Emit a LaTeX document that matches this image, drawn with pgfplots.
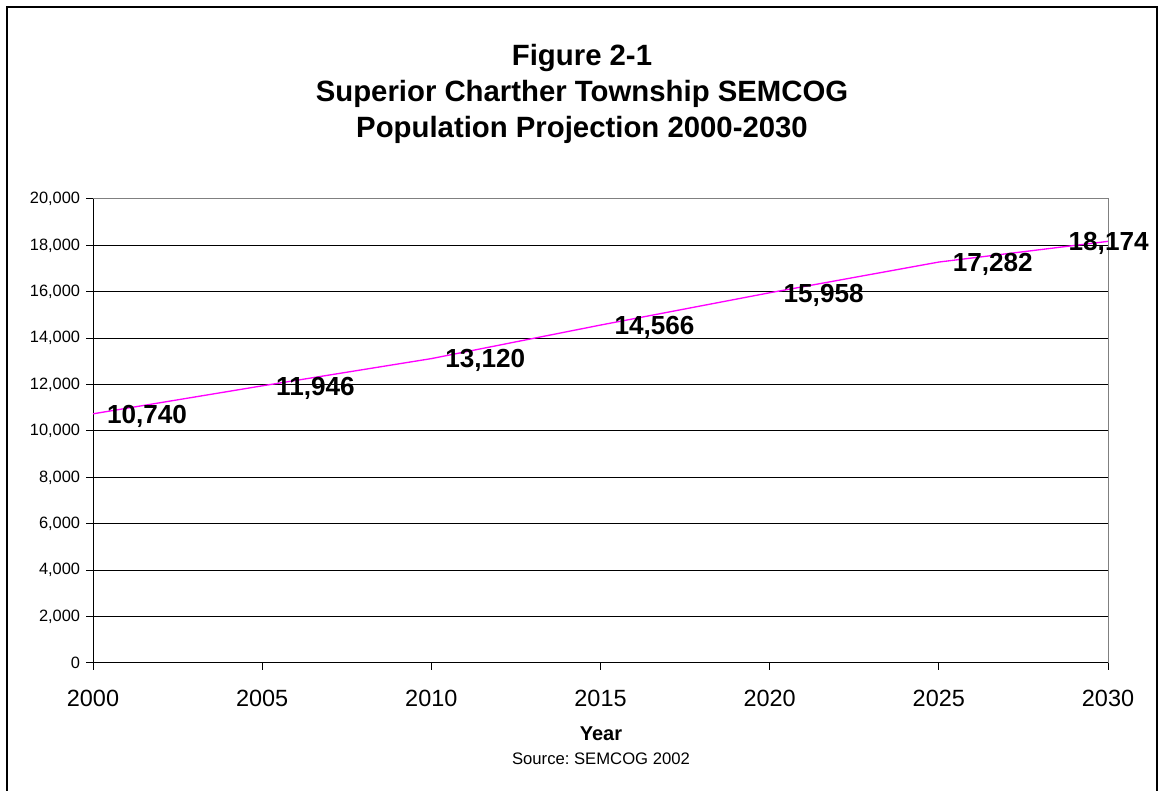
\documentclass[border=0pt]{standalone}
\usepackage{fontspec}
\setmainfont{Liberation Sans}
\usepackage{pgfplots}
\pgfplotsset{compat=1.18}
\definecolor{mag}{RGB}{255,0,255}
\definecolor{bordergray}{RGB}{128,128,128}
\frenchspacing
\begin{document}
\begin{tikzpicture}
\useasboundingbox (0,0) rectangle (869.25pt,593.25pt);
\draw[line width=1.5pt] (5.25pt,-10pt) -- (5.25pt,588pt) -- (867.4pt,588pt) -- (867.4pt,-10pt);
\node[anchor=base, inner sep=0pt, font=\fontsize{22}{26}\selectfont\bfseries] at (436.5pt,543.75pt) {Figure 2-1};
\node[anchor=base, inner sep=0pt, font=\fontsize{22}{26}\selectfont\bfseries] at (436.5pt,516.75pt) {Superior Charther Township SEMCOG};
\node[anchor=base, inner sep=0pt, font=\fontsize{22}{26}\selectfont\bfseries] at (436.5pt,489.75pt) {Population Projection 2000-2030};
\node[anchor=base, inner sep=0pt, font=\fontsize{15}{18}\selectfont\bfseries] at (450.75pt,37.5pt) {Year};
\node[anchor=base, inner sep=0pt, font=\fontsize{12.5}{15}\selectfont] at (450.75pt,19.5pt) {Source: SEMCOG 2002};
\begin{axis}[
  at={(69.75pt,96pt)}, anchor=south west,
  scale only axis, width=761.25pt, height=348pt,
  xmin=2000, xmax=2030, ymin=0, ymax=20000,
  xtick={2000,2005,...,2030}, ytick={0,2000,...,20000},
  axis lines*=left, axis line style={-, black, line width=0.75pt},
  tick align=outside, major tick length=5pt,
  tick style={black, line width=0.75pt},
  ymajorgrids, grid style={black, line width=0.75pt},
  scaled y ticks=false,
  /pgf/number format/assume math mode=true,
  /pgf/number format/1000 sep={,},
  xticklabel style={/pgf/number format/1000 sep={}, anchor=base, yshift=-27.75pt, font=\fontsize{17.6}{20}\selectfont},
  yticklabel style={anchor=east, inner sep=0pt, xshift=-4.5pt, font=\fontsize{12.3}{14}\selectfont},
  clip=false,
]
\addplot[mag, line width=1pt, mark=none,
  visualization depends on={x \as \xv},
  nodes near coords={\pgfmathprintnumber[assume math mode=true,1000 sep={,}]{\pgfplotspointmeta}},
  every node near coord/.append style={anchor=base west, xshift={((\xv>2029)*(-40)+10)*1pt}, yshift=-7pt, inner sep=0pt, text=black, font=\fontsize{19.6}{22}\selectfont\bfseries},
] coordinates {
  (2000,10740) (2005,11946) (2010,13120) (2015,14566) (2020,15958) (2025,17282) (2030,18174)
};
\draw[bordergray, line width=0.75pt] (rel axis cs:0,1) -- (rel axis cs:1,1) -- (rel axis cs:1,0);
\end{axis}
\end{tikzpicture}
\end{document}
